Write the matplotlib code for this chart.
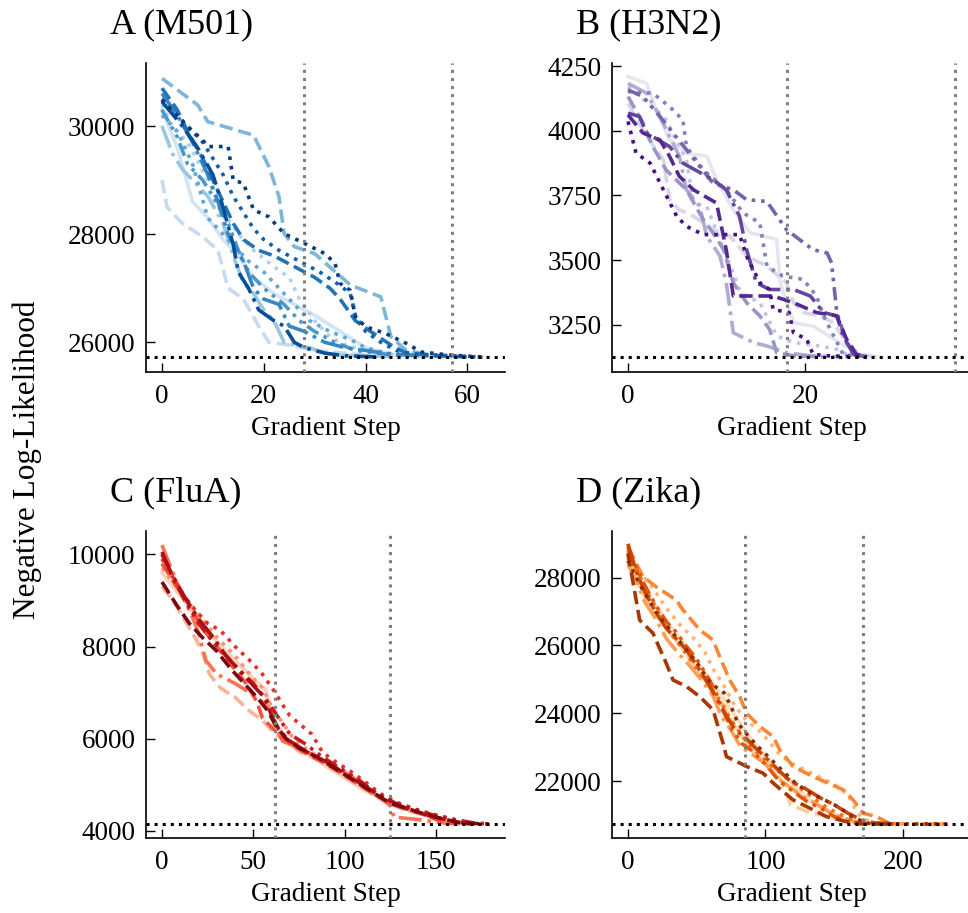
import matplotlib
matplotlib.use("Agg")
import matplotlib.pyplot as plt

plt.rcParams['font.family'] = ['Liberation Serif', 'DejaVu Serif']

# ---------------- data ----------------
panel_titles = ["A (M501)", "B (H3N2)", "C (FluA)", "D (Zika)"]
panel_cmaps = ["Blues", "Purples", "Reds", "Oranges"]
x_label = "Gradient Step"
y_label = "Negative Log-Likelihood"

# minimum NLL (horizontal dotted line) and vertical markers per panel
m501_min = 25722
h3n2_min = 3127
flua_min = 4152
zika_min = 20732
m501_vlines = [28, 57]
h3n2_vlines = [18, 37]
flua_vlines = [62, 125]
zika_vlines = [85, 171]

# ---- A (M501) runs ----
m501_steps = [
    [0, 3, 6, 9, 12, 15, 18, 22, 26, 30, 35, 40, 46, 55],
    [0, 1, 4, 8, 11, 13, 16, 19, 21, 25, 30, 38, 45],
    [0, 2, 5, 9, 12, 15, 18, 22, 25, 27, 30, 33, 36, 40, 46, 52],
    [0, 2, 4, 6, 9, 12, 14, 16, 18, 20, 22, 24, 26, 29, 32, 35, 45],
    [0, 7, 9, 18, 21, 23, 24, 26, 30, 37, 43, 45, 48, 53, 57],
    [0, 3, 6, 9, 11, 14, 17, 20, 23, 26, 29, 33, 37, 40, 44, 50],
    [0, 3, 5, 8, 10, 13, 15, 17, 20, 24, 27, 30, 34, 38, 44, 50],
    [0, 3, 6, 9, 11, 13, 16, 18, 20, 23, 25, 28, 32, 36, 40, 45, 55],
    [0, 3, 5, 8, 10, 12, 14, 16, 19, 22, 26, 30, 33, 35, 38, 41, 45, 48, 55, 60],
    [0, 4, 8, 10, 12, 14, 16, 18, 20, 23, 27, 31, 35, 37, 38, 40, 43, 46, 50, 60, 63],
    [0, 4, 7, 10, 12, 14, 15, 17, 19, 22, 24, 26, 28, 32, 36, 42],
    [0, 5, 8, 9, 13, 14, 16, 18, 21, 24, 28, 32, 34, 35, 37, 38, 40, 44, 48, 51, 57, 63],
]
m501_nll = [
    [30300, 29600, 28600, 28300, 27900, 27600, 27200, 26900, 26700, 26500, 26200, 25900, 25760, 25730],
    [29000, 28500, 28200, 27950, 27700, 27000, 26800, 26300, 26000, 25950, 25850, 25780, 25740],
    [30400, 30000, 29700, 29000, 28400, 28000, 27700, 27400, 27200, 26800, 26400, 26100, 25950, 25850, 25760, 25730],
    [30000, 29500, 29200, 29000, 28700, 28200, 27600, 27100, 26900, 26600, 26400, 26000, 25950, 25900, 25800, 25760, 25740],
    [30880, 30390, 30080, 29830, 29250, 28690, 28010, 27770, 27640, 27060, 26840, 26100, 25850, 25760, 25730],
    [30200, 29900, 29300, 28300, 28100, 27800, 27500, 27300, 27000, 26700, 26400, 26200, 26050, 25900, 25800, 25750],
    [30300, 29800, 29300, 29000, 28700, 28200, 27700, 27300, 27000, 26700, 26400, 26200, 26000, 25850, 25780, 25740],
    [30600, 30200, 29700, 29100, 28600, 28000, 27500, 27000, 26800, 26700, 26300, 26200, 26000, 25900, 25850, 25780, 25740],
    [30700, 30300, 29900, 29400, 29000, 28600, 28200, 27900, 27700, 27600, 27400, 27200, 27000, 26800, 26400, 26200, 25950, 25800, 25750, 25730],
    [30500, 30100, 29700, 29400, 29100, 28700, 28400, 28100, 27900, 27700, 27500, 27300, 27050, 26900, 26500, 26200, 26000, 25850, 25780, 25740, 25722],
    [30450, 30000, 29600, 29100, 28500, 27800, 27300, 27000, 26600, 26400, 26300, 26000, 25900, 25800, 25750, 25730],
    [30480, 29990, 29740, 29620, 29620, 29000, 28940, 28450, 28320, 28010, 27830, 27640, 27460, 27090, 26960, 26470, 26290, 26160, 25980, 25820, 25760, 25730],
]

# ---- B (H3N2) runs ----
h3n2_steps = [
    [0, 2.1, 3.2, 4.7, 6.6, 8.9, 10, 11.9, 13.8, 16.8, 17.2, 18.7, 20.9, 23.9, 26.2, 28],
    [0, 2.1, 4, 4.7, 5.8, 7.4, 9.6, 11.5, 13.4, 15.7, 17.9, 18.7, 19.8, 21.7, 23.2, 24.7, 26.2, 28],
    [0, 3.6, 4.3, 6.6, 7.4, 8.9, 12.6, 13.4, 14.9, 16.8, 18.7, 21.7, 23.6, 24.7, 27],
    [0, 2.1, 3.6, 5.8, 6.6, 8.1, 8.9, 10.4, 11.1, 11.9, 14.2, 15.7, 17.9, 20.6, 24],
    [0, 1.7, 2.8, 4.3, 6.6, 8.5, 9.6, 10.8, 11.9, 13.4, 14.9, 16, 16.8, 18.7, 22],
    [0, 2.8, 4.7, 6.2, 6.6, 8.5, 11.1, 13, 14.9, 15.7, 17.5, 19.8, 21.3, 22.1, 24.3, 27],
    [0, 1.7, 3.6, 6.6, 9.6, 11.9, 13.4, 15.7, 17.9, 20.9, 22.5, 23, 23.6, 24.7, 25.5, 27],
    [0, 1.3, 2.1, 4.7, 6.2, 9.6, 11.1, 12.6, 13.4, 14.5, 16, 18.7, 20.6, 22.1, 23.6, 24.3, 25.5, 27],
    [0, 1.7, 3.6, 4.7, 5.8, 7.4, 10, 11.1, 11.9, 16.4, 18.7, 21.3, 23.6, 24.7, 25.8, 27],
    [0, 0.9, 2.5, 4, 5.5, 6.6, 8.5, 12.6, 13.4, 14.9, 16, 16.4, 18.2, 18.7, 20.2, 20.9, 22.5, 27],
]
h3n2_nll = [
    [4209, 4183, 4081, 3965, 3914, 3901, 3811, 3695, 3606, 3580, 3413, 3259, 3246, 3182, 3137, 3127],
    [4106, 3978, 3888, 3734, 3695, 3670, 3618, 3593, 3516, 3477, 3413, 3336, 3298, 3285, 3259, 3182, 3137, 3127],
    [4170, 4068, 4042, 3888, 3721, 3708, 3387, 3362, 3336, 3208, 3182, 3169, 3156, 3137, 3127],
    [4183, 4145, 4055, 3901, 3772, 3708, 3593, 3516, 3413, 3220, 3182, 3169, 3143, 3131, 3127],
    [4132, 4029, 3939, 3849, 3772, 3657, 3606, 3541, 3413, 3336, 3285, 3233, 3143, 3131, 3127],
    [4151, 4145, 4093, 4042, 3939, 3849, 3772, 3683, 3644, 3477, 3439, 3426, 3362, 3285, 3137, 3127],
    [4158, 4132, 4055, 3927, 3798, 3772, 3734, 3727, 3618, 3541, 3528, 3490, 3298, 3182, 3137, 3127],
    [4068, 4055, 3991, 3939, 3875, 3811, 3772, 3670, 3541, 3413, 3387, 3387, 3362, 3298, 3285, 3208, 3137, 3127],
    [4061, 3991, 3965, 3901, 3824, 3772, 3721, 3541, 3362, 3362, 3336, 3298, 3285, 3195, 3137, 3127],
    [4036, 3914, 3875, 3772, 3670, 3631, 3599, 3599, 3516, 3413, 3387, 3310, 3298, 3220, 3195, 3137, 3131, 3127],
]

# ---- C (FluA) runs ----
flua_steps = [
    [0, 10, 20, 30, 40, 50, 57, 60, 66, 72, 80, 90, 100, 110, 120, 130, 140, 150, 160, 170],
    [0, 6, 12, 18, 22, 26, 32, 40, 48, 55, 62, 68, 76, 86, 96, 106, 116, 124, 134, 146, 156, 166],
    [0, 10, 20, 30, 40, 48, 55, 60, 66, 72, 80, 90, 100, 110, 118, 128, 138, 148, 158, 168],
    [0, 5, 10, 16, 20, 24, 30, 40, 48, 55, 60, 63, 66, 75, 85, 95, 105, 115, 125, 127, 140, 155, 165],
    [0, 8, 15, 22, 30, 38, 46, 52, 55, 60, 65, 72, 80, 90, 100, 110, 120, 130, 142, 150, 160],
    [0, 6, 12, 18, 25, 32, 40, 48, 55, 62, 65, 70, 76, 82, 88, 95, 103, 110, 120, 130, 140, 150, 160, 168],
    [0, 7, 14, 20, 28, 34, 42, 50, 58, 63, 70, 78, 88, 98, 108, 118, 128, 138, 148, 160, 170, 179],
    [0, 5, 12, 20, 28, 35, 42, 50, 56, 60, 64, 70, 80, 90, 100, 110, 120, 130, 140, 150, 160, 170],
    [0, 8, 15, 22, 30, 38, 45, 52, 58, 62, 68, 75, 85, 95, 105, 115, 125, 135, 145, 155, 165, 179],
]
flua_nll = [
    [9600, 9100, 8600, 8100, 7700, 7300, 7050, 6500, 6100, 5900, 5700, 5400, 5150, 4900, 4700, 4500, 4400, 4250, 4180, 4152],
    [9300, 9000, 8600, 8200, 7900, 7400, 7100, 6900, 6600, 6400, 6100, 5950, 5700, 5550, 5300, 5050, 4800, 4600, 4450, 4320, 4220, 4160],
    [9700, 9200, 8700, 8200, 7800, 7400, 7100, 6700, 6350, 6000, 5750, 5500, 5250, 5000, 4750, 4550, 4420, 4300, 4200, 4152],
    [10200, 9700, 9200, 8700, 8300, 7700, 7400, 7200, 7000, 6800, 6600, 6200, 5950, 5800, 5600, 5400, 5150, 4850, 4550, 4300, 4250, 4170, 4152],
    [9800, 9300, 8900, 8400, 8000, 7600, 7200, 6800, 6450, 6250, 6050, 5850, 5650, 5450, 5200, 4950, 4700, 4520, 4380, 4250, 4160],
    [9900, 9500, 9100, 8800, 8500, 8350, 8000, 7700, 7400, 7000, 6800, 6500, 6300, 6100, 5700, 5500, 5300, 5100, 4800, 4600, 4450, 4350, 4250, 4152],
    [10000, 9400, 8900, 8500, 8100, 7850, 7500, 7200, 6800, 6500, 6100, 5900, 5600, 5350, 5100, 4800, 4600, 4480, 4350, 4250, 4180, 4152],
    [10050, 9600, 9100, 8600, 8200, 7800, 7500, 7150, 6900, 6500, 6200, 5950, 5700, 5500, 5250, 5000, 4750, 4550, 4400, 4300, 4200, 4152],
    [9400, 8900, 8500, 8200, 7900, 7500, 7200, 6900, 6600, 6300, 6000, 5800, 5600, 5350, 5100, 4850, 4600, 4480, 4350, 4250, 4170, 4152],
]

# ---- D (Zika) runs ----
zika_steps = [
    [0, 10, 20, 30, 40, 50, 60, 70, 80, 90, 100, 110, 120, 130, 140, 150, 160, 170],
    [0, 8, 15, 22, 30, 40, 48, 55, 62, 70, 78, 85, 92, 100, 108, 115, 118, 130, 145, 160, 170],
    [0, 10, 18, 28, 38, 48, 56, 62, 70, 78, 86, 95, 102, 110, 120, 130, 140, 150, 160, 165, 170, 180],
    [0, 6, 12, 20, 28, 36, 45, 55, 62, 68, 75, 82, 90, 100, 108, 115, 125, 138, 150, 165, 180, 231],
    [0, 10.9, 20.6, 35.2, 40, 52.2, 61.9, 66.7, 74, 81.3, 86.2, 95.9, 105.6, 110.4, 120.1, 134.7, 156.6, 163.8, 171.1, 180.8, 190.5],
    [0, 8, 15, 22, 30, 38, 45, 52, 60, 68, 75, 82, 90, 98, 106, 115, 125, 135, 145, 155, 165, 175],
    [0, 6, 12, 20, 28, 35, 42, 50, 56, 63, 70, 76, 83, 90, 100, 110, 120, 130, 140, 150, 160, 172],
    [0, 5, 12, 20, 28, 35, 42, 50, 58, 65, 72, 78, 85, 92, 100, 110, 118, 128, 140, 150, 160, 170, 180, 195],
    [0, 8.5, 18.2, 27.9, 32.8, 42.5, 52.2, 61.9, 69.2, 71.6, 81.3, 86.2, 98.3, 105.6, 120.1, 134.7, 144.4, 159, 168.7, 190],
    [0, 10, 20, 30, 40, 50, 58, 63, 70, 75, 80, 88, 95, 100, 110, 120, 130, 140, 150, 158, 165, 175, 200, 233],
]
zika_nll = [
    [28600, 27800, 27200, 26600, 26100, 25500, 25000, 24400, 23800, 23200, 22700, 22300, 21900, 21500, 21200, 21000, 20850, 20750],
    [28600, 27800, 27200, 26800, 26400, 25900, 25400, 25000, 24600, 24200, 23600, 23200, 22800, 22600, 22300, 21700, 21300, 21100, 20950, 20800, 20740],
    [28700, 28100, 27700, 27100, 26600, 26200, 25800, 25300, 24800, 24200, 23800, 23500, 23200, 22800, 22500, 22300, 22100, 21900, 21600, 21200, 20900, 20750],
    [28400, 27900, 27300, 26800, 26200, 25800, 25400, 24900, 24500, 23900, 23500, 23000, 22800, 22500, 22100, 21900, 21600, 21300, 21000, 20800, 20740, 20732],
    [28910, 28030, 27730, 27340, 27050, 26460, 26160, 25670, 24980, 24490, 24000, 23610, 23310, 22920, 22430, 22130, 21740, 21440, 21050, 20950, 20736],
    [28800, 28100, 27500, 27000, 26400, 26000, 25600, 25200, 24800, 24300, 23800, 23400, 23000, 22700, 22400, 22100, 21800, 21500, 21200, 21000, 20850, 20750],
    [28900, 28300, 27800, 27200, 26700, 26400, 26000, 25600, 25200, 24700, 24000, 23500, 23100, 22900, 22500, 22000, 21700, 21400, 21200, 20950, 20800, 20740],
    [29000, 28300, 27600, 27000, 26500, 26200, 25900, 25400, 24900, 24400, 23900, 23500, 23300, 23000, 22700, 22300, 22000, 21800, 21500, 21300, 21050, 20850, 20760, 20732],
    [28720, 26750, 26360, 25470, 24980, 24790, 24490, 24100, 23110, 22720, 22530, 22430, 22230, 21940, 21440, 21150, 20950, 20800, 20736, 20732],
    [28500, 27700, 27000, 26500, 26000, 25500, 25000, 24800, 24600, 24200, 23700, 23300, 23000, 22800, 22400, 22000, 21700, 21500, 21300, 21100, 20900, 20750, 20732, 20732],
]

# ---------------- styling ----------------
DASHDOTDOT = (0, (3.7, 1.6, 1, 1.6, 1, 1.6))
style_cycle = ['-', '--', ':', '-.', '--', ':', DASHDOTDOT, '-.', '--', ':', '-.', ':']

W, H = 968, 913
fig = plt.figure(figsize=(W / 100, H / 100), dpi=100)

# axes boxes in pixels: left, right, top, bottom
boxes = [(146, 505, 63, 372), (612, 971, 63, 372),
         (146, 505, 531, 838), (612, 971, 531, 838)]
xlims = [(-3.14, 67.4), (-1.81, 38.76), (-8.76, 187.8), (-11.6, 249.5)]
ylims = [(25451, 31165), (3068.5, 4261.6), (3848, 10505), (20318, 29378)]
xticks = [[0, 20, 40, 60], [0, 20], [0, 50, 100, 150], [0, 100, 200]]
yticks = [[26000, 28000, 30000], [3250, 3500, 3750, 4000, 4250],
          [4000, 6000, 8000, 10000], [22000, 24000, 26000, 28000]]

panels = [
    (m501_steps, m501_nll, m501_min, m501_vlines),
    (h3n2_steps, h3n2_nll, h3n2_min, h3n2_vlines),
    (flua_steps, flua_nll, flua_min, flua_vlines),
    (zika_steps, zika_nll, zika_min, zika_vlines),
]

for k, (steps, nll, mn, vls) in enumerate(panels):
    l, r, t, b = boxes[k]
    ax = fig.add_axes([l / W, (H - b) / H, (r - l) / W, (b - t) / H])
    cmap = plt.get_cmap(panel_cmaps[k])
    n = len(steps)
    for i in range(n):
        shade = 0.18 + 0.77 * i / (n - 1)
        ax.plot(steps[i], nll[i], color=cmap(shade), lw=2.6,
                linestyle=style_cycle[i % len(style_cycle)], zorder=2)
    for v in vls:
        ax.axvline(v, color='gray', linestyle=':', lw=2.2, zorder=3)
    ax.axhline(mn, color='black', linestyle=':', lw=2.2, zorder=4)
    ax.set_xlim(*xlims[k])
    ax.set_ylim(*ylims[k])
    ax.set_xticks(xticks[k])
    ax.set_yticks(yticks[k])
    for s in ['top', 'right']:
        ax.spines[s].set_visible(False)
    for s in ['left', 'bottom']:
        ax.spines[s].set_linewidth(1.2)
    ax.tick_params(direction='in', length=6.5, width=1.0, labelsize=19.5)
    ax.tick_params(axis='x', pad=8.5)
    ax.tick_params(axis='y', pad=7.5)
    ax.set_xlabel(x_label, fontsize=19.5, labelpad=5)
    fig.text((l - 36) / W, (H - (t - 30)) / H, panel_titles[k],
             fontsize=26, ha='left', va='baseline')

fig.text(27 / W, 1 - 460 / H, y_label, rotation=90, fontsize=22.5,
         ha='center', va='center')

fig.savefig("out.png", dpi=100)
